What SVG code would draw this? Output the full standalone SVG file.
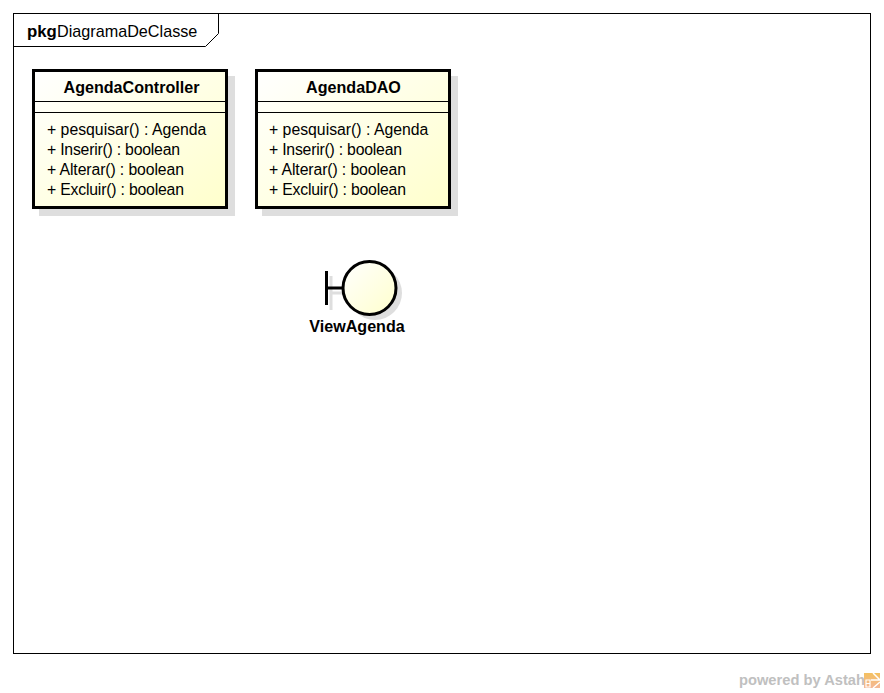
<svg xmlns="http://www.w3.org/2000/svg" width="884" height="693" viewBox="0 0 884 693">
<style>
text{font-family:"Liberation Sans",Arial,sans-serif;font-size:15.8px;fill:#000}
.b{font-weight:700}
.t{font-size:16.1px}
.m{text-anchor:middle}
.box{fill:url(#g);stroke:#000;stroke-width:3}
.sh{fill:#dedede}
.ln{stroke:#000;stroke-width:1;fill:none}
</style>
<defs>
<linearGradient id="g" x1="0" y1="0" x2="1" y2="1"><stop offset="0" stop-color="#fff"/><stop offset="1" stop-color="#ffffcc"/></linearGradient>
<linearGradient id="o" x1="0" y1="0" x2="0" y2="1"><stop offset="0" stop-color="#f4c060"/><stop offset="1" stop-color="#f4b898"/></linearGradient>
</defs>
<rect width="884" height="693" fill="#fff"/>
<g id="frame">
<rect class="ln" x="13.5" y="13.5" width="857" height="640"/>
<path class="ln" d="M13.5 46.500H205.500L218.500 33.500V13.500"/>
<text x="27" y="36.500"><tspan class="b" style="font-size:16.800px">pkg</tspan><tspan x="57" style="font-size:16.200px">DiagramaDeClasse</tspan></text>
</g>
<g id="connectors"/>
<g id="AgendaController">
<rect class="sh" x="39" y="76" width="196" height="140"/>
<rect class="box" x="33.500" y="70.500" width="193" height="137"/>
<path class="ln" d="M35 101.500H225M35 112.500H225"/>
<text class="b m t" x="131.500" y="93">AgendaController</text>
<text x="47" y="134.500">+ pesquisar() : Agenda</text>
<text x="47" y="154.500" textLength="133">+ Inserir() : boolean</text>
<text x="47" y="174.500" textLength="137">+ Alterar() : boolean</text>
<text x="47" y="194.500" textLength="137">+ Excluir() : boolean</text>
</g>
<g id="AgendaDAO">
<rect class="sh" x="262" y="76" width="196" height="140"/>
<rect class="box" x="256.500" y="70.500" width="193" height="137"/>
<path class="ln" d="M258 101.500H448M258 112.500H448"/>
<text class="b m t" x="353.500" y="93">AgendaDAO</text>
<text x="269" y="134.500">+ pesquisar() : Agenda</text>
<text x="269" y="154.500" textLength="133">+ Inserir() : boolean</text>
<text x="269" y="174.500" textLength="137">+ Alterar() : boolean</text>
<text x="269" y="194.500" textLength="137">+ Excluir() : boolean</text>
</g>
<g id="ViewAgenda">
<path d="M331 276V310M331 293H348" stroke="#dedede" stroke-width="3" fill="none"/>
<circle class="sh" cx="375" cy="293" r="27"/>
<path d="M326.500 271V305M326.500 288H343" stroke="#000" stroke-width="3" fill="none"/>
<circle class="box" cx="369.500" cy="288" r="26.500"/>
<text class="b m t" x="357" y="331.500">ViewAgenda</text>
</g>
<g id="watermark">
<text class="b" x="739" y="685" style="fill:#c0c0c0;font-size:14.700px">powered by Astah</text>
<rect x="864" y="673" width="16" height="15" fill="url(#o)"/>
<path d="M873 673L880 680M871 680H880M873 688L880 682" stroke="#fff" stroke-width="1.500" fill="none"/>
<path d="M866 680H870V687H866ZM866 683.500H870" stroke="#fff" stroke-width="1.200" fill="none"/>
</g>
</svg>
